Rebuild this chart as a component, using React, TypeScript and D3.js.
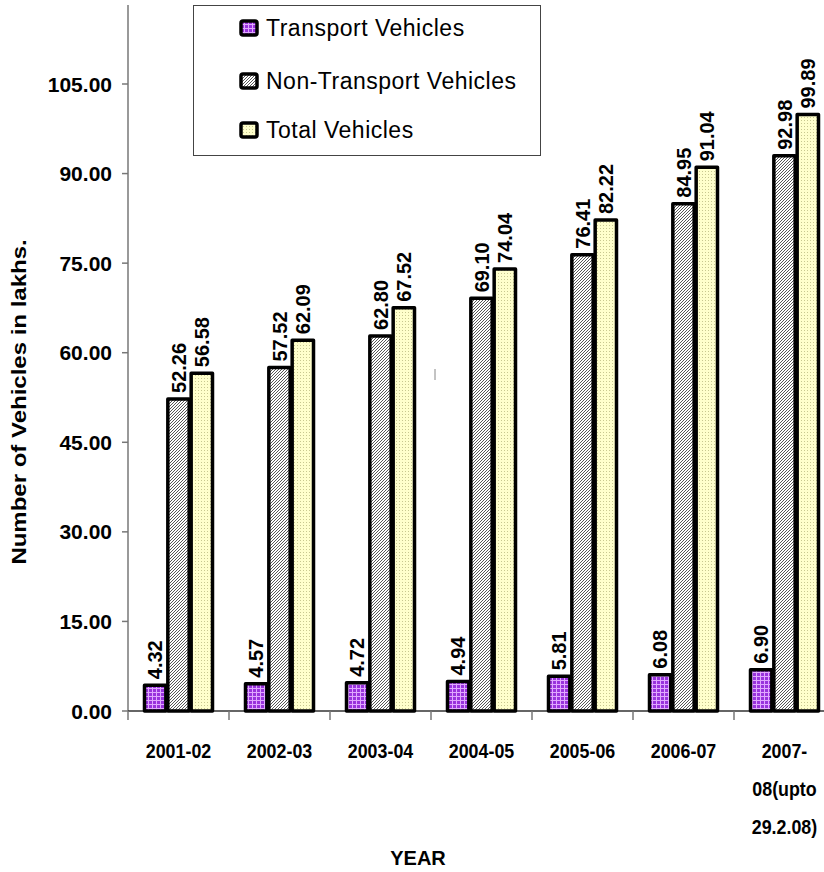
import { scaleBand, scaleLinear } from "d3";

const years = ["2001-02", "2002-03", "2003-04", "2004-05", "2005-06", "2006-07", "2007-08(upto 29.2.08)"];
const yearLines = [["2001-02"], ["2002-03"], ["2003-04"], ["2004-05"], ["2005-06"], ["2006-07"], ["2007-", "08(upto", "29.2.08)"]];
const transport = [4.32, 4.57, 4.72, 4.94, 5.81, 6.08, 6.9];
const nonTransport = [52.26, 57.52, 62.8, 69.1, 76.41, 84.95, 92.98];
const total = [56.58, 62.09, 67.52, 74.04, 82.22, 91.04, 99.89];
const yTicks = [0, 15, 30, 45, 60, 75, 90, 105];
const seriesNames = ["Transport Vehicles", "Non-Transport Vehicles", "Total Vehicles"];

const font = "'Liberation Sans', Arial, sans-serif";

export default function App() {
  const W = 824;
  const H = 872;
  const x = scaleBand().domain(years).range([128, 835]).paddingInner(0).paddingOuter(0);
  const inner = scaleBand().domain(["t", "n", "a"]).range([15, 85]);
  const y = scaleLinear().domain([0, 105]).range([711, 84]);
  const series = [
    { key: "t", values: transport, fill: "url(#pTransport)" },
    { key: "n", values: nonTransport, fill: "url(#pNon)" },
    { key: "a", values: total, fill: "url(#pTotal)" },
  ];
  const legendFills = ["url(#pTransport)", "url(#pNon)", "url(#pTotal)"];
  const legendY = [28, 81, 130];

  return (
    <svg
      width={W}
      height={H}
      style={{ position: "absolute", left: 0, top: 0, display: "block" }}
      fontFamily={font}
    >
      <defs>
        <pattern id="pTransport" width="4" height="4" patternUnits="userSpaceOnUse">
          <rect width="4" height="4" fill="#9933DD" />
          <path d="M0 0.5H4M0.5 0V4" stroke="#E0A8FF" strokeWidth="1" />
        </pattern>
        <pattern id="pNon" width="3" height="3" patternUnits="userSpaceOnUse">
          <rect width="3" height="3" fill="#ffffff" />
          <path d="M-1 1L1 -1M0 3L3 0M2 4L4 2" stroke="#444" strokeWidth="0.9" />
        </pattern>
        <pattern id="pTotal" width="3" height="3" patternUnits="userSpaceOnUse">
          <rect width="3" height="3" fill="#FFFFCC" />
          <rect width="1" height="1" fill="#C8C890" />
        </pattern>
      </defs>
      <rect width={W} height={H} fill="#fff" />

      {/* y axis */}
      <line x1={128} x2={128} y1={5} y2={711} stroke="#777" strokeWidth={1.5} />
      {yTicks.map((t) => (
        <g key={t}>
          <line x1={122} x2={128} y1={y(t)} y2={y(t)} stroke="#777" strokeWidth={1.5} />
          <text x={112} y={y(t)} dy="0.36em" textAnchor="end" fontSize={21} fontWeight="bold">
            {t.toFixed(2)}
          </text>
        </g>
      ))}

      {/* x axis */}
      <line x1={128} x2={835} y1={711} y2={711} stroke="#333" strokeWidth={1.5} />
      {years.map((yr, i) => (
        <g key={yr}>
          <line x1={x(yr)!} x2={x(yr)!} y1={711} y2={720} stroke="#777" strokeWidth={1.5} />
          {yearLines[i].map((ln, j) => (
            <text
              key={j}
              transform={`translate(${x(yr)! + x.bandwidth() / 2},${750 + j * 38}) scale(0.85,1)`}
              dy="0.36em"
              textAnchor="middle"
              fontSize={21}
              fontWeight="bold"
            >
              {ln}
            </text>
          ))}
        </g>
      ))}

      {/* bars */}
      {years.map((yr, i) =>
        series.map((s) => {
          const v = s.values[i];
          const bx = x(yr)! + inner(s.key)!;
          const bw = inner.bandwidth();
          return (
            <g key={yr + s.key}>
              <rect
                x={bx + 1.5}
                y={y(v)}
                width={bw - 2}
                height={711 - y(v)}
                fill={s.fill}
                stroke="#000"
                strokeWidth={3.5}
                strokeLinejoin="round"
              />
              <text
                transform={`translate(${bx + bw / 2 + 0.5},${y(v) - 6}) rotate(-90)`}
                dy="0.36em"
                textAnchor="start"
                fontSize={20}
                fontWeight="bold"
              >
                {v.toFixed(2)}
              </text>
            </g>
          );
        })
      )}

      {/* stray mark */}
      <line x1={435} x2={435} y1={369} y2={380} stroke="#888" strokeWidth={1} />

      {/* legend */}
      <rect x={193.5} y={5.5} width={347} height={150} fill="#fff" stroke="#444" strokeWidth={1} />
      {seriesNames.map((n, i) => (
        <g key={n}>
          <rect
            x={241}
            y={legendY[i] - 7}
            width={16}
            height={14}
            rx={2}
            fill={legendFills[i]}
            stroke="#000"
            strokeWidth={3.5}
          />
          <text x={266} y={legendY[i]} dy="0.36em" fontSize={23} letterSpacing={0.5}>
            {n}
          </text>
        </g>
      ))}

      {/* axis titles */}
      <text
        transform={`translate(19,402) rotate(-90) scale(1.2,1)`}
        dy="0.36em"
        textAnchor="middle"
        fontSize={20}
        fontWeight="bold"
      >
        Number of Vehicles in lakhs.
      </text>
      <text x={418} y={858} dy="0.36em" textAnchor="middle" fontSize={20} fontWeight="bold">
        YEAR
      </text>
    </svg>
  );
}
